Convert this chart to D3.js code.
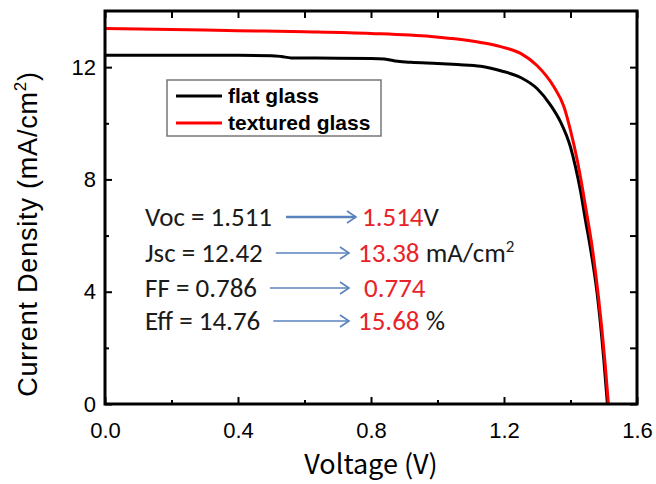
<!DOCTYPE html>
<html>
<head>
<meta charset="utf-8">
<script src="https://cdn.jsdelivr.net/npm/d3@7"></script>
<style>
  html, body { margin: 0; padding: 0; background: #fff; }
  svg { display: block; }
</style>
</head>
<body>
<svg id="chart" width="656" height="484"></svg>
<script>
// J-V curves of the cell on flat and on textured glass
const flatVoltage = [0, 0.2, 0.4, 0.5, 0.53, 0.56, 0.7, 0.8, 0.84, 0.88, 0.92, 1.0, 1.06, 1.13, 1.19, 1.25, 1.30, 1.34, 1.37, 1.40, 1.415, 1.43, 1.445, 1.46, 1.48, 1.50, 1.511];
const flatCurrent = [12.42, 12.42, 12.42, 12.41, 12.38, 12.33, 12.32, 12.31, 12.29, 12.21, 12.17, 12.13, 12.09, 12.03, 11.87, 11.63, 11.23, 10.65, 10.05, 9.15, 8.45, 7.6, 6.55, 5.55, 3.95, 1.6, 0];

const texturedVoltage = [0, 0.2, 0.4, 0.6, 0.8, 0.98, 1.13, 1.19, 1.25, 1.30, 1.35, 1.38, 1.40, 1.42, 1.435, 1.45, 1.465, 1.484, 1.504, 1.514];
const texturedCurrent = [13.38, 13.34, 13.30, 13.26, 13.20, 13.09, 12.88, 12.73, 12.49, 12.05, 11.30, 10.60, 9.75, 8.70, 7.75, 6.70, 5.60, 3.82, 1.45, 0];

const seriesNames = ["flat glass", "textured glass"];
const seriesColors = ["#000000", "#ff0000"];

const xTicks = [0.0, 0.4, 0.8, 1.2, 1.6];
const xMinorTicks = [0.2, 0.6, 1.0, 1.4];
const yTicks = [0, 4, 8, 12];
const yMinorTicks = [2, 6, 10];

// device parameters: flat glass -> textured glass
const paramNames = ["Voc", "Jsc", "FF", "Eff"];
const flatParams = ["1.511", "12.42", "0.786", "14.76"];
const texturedParams = ["1.514", "13.38", "0.774", "15.68"];
const paramUnits = ["V", " mA/cm", "", " %"];

const svg = d3.select("#chart");
const margin = { left: 105, right: 19, top: 11, bottom: 80 };
const W = 656, H = 484;

const x = d3.scaleLinear().domain([0, 1.6]).range([margin.left, W - margin.right]);
const y = d3.scaleLinear().domain([0, 14]).range([H - margin.bottom, margin.top]);

const tickFont = "'Liberation Sans', Arial, sans-serif";
const titleFont = "'Noto Sans CJK JP', 'Liberation Sans', sans-serif";

// curves
const line = d3.line().x(d => x(d[0])).y(d => y(d[1])).curve(d3.curveMonotoneX);
const series = [
  d3.zip(flatVoltage, flatCurrent),
  d3.zip(texturedVoltage, texturedCurrent)
];
svg.append("clipPath").attr("id", "plotclip").append("rect")
  .attr("x", x(0)).attr("y", y(14)).attr("width", x(1.6) - x(0)).attr("height", y(0) - y(14) + 1);
const curves = svg.append("g").attr("clip-path", "url(#plotclip)");
series.forEach((s, i) => {
  curves.append("path").datum(s)
    .attr("d", line)
    .attr("fill", "none")
    .attr("stroke", seriesColors[i])
    .attr("stroke-width", 3)
    .attr("stroke-linejoin", "round");
});

// axes: inward ticks on all four sides
function styleAxis(g) {
  g.select(".domain").remove();
  g.selectAll(".tick line").attr("stroke", "#000").attr("stroke-width", 2);
  g.selectAll("text").attr("font-family", tickFont).attr("font-size", 22).attr("fill", "#000");
}
const bottom = svg.append("g").attr("transform", `translate(0,${y(0)})`)
  .call(d3.axisBottom(x).tickValues(xTicks).tickFormat(d3.format(".1f")).tickSizeInner(-7).tickPadding(18));
styleAxis(bottom);
svg.append("g").attr("transform", `translate(0,${y(0)})`)
  .call(d3.axisBottom(x).tickValues(xMinorTicks).tickFormat("").tickSizeInner(-4)).call(styleAxis);

const left = svg.append("g").attr("transform", `translate(${x(0)},0)`)
  .call(d3.axisLeft(y).tickValues(yTicks).tickFormat(d3.format("d")).tickSizeInner(-7).tickPadding(9));
styleAxis(left);
svg.append("g").attr("transform", `translate(${x(0)},0)`)
  .call(d3.axisLeft(y).tickValues(yMinorTicks).tickFormat("").tickSizeInner(-4)).call(styleAxis);

svg.append("g").attr("transform", `translate(0,${y(14)})`)
  .call(d3.axisTop(x).tickValues(xTicks.concat(xMinorTicks)).tickFormat("").tickSizeInner(-7)).call(styleAxis);
svg.append("g").attr("transform", `translate(${x(1.6)},0)`)
  .call(d3.axisRight(y).tickValues(yTicks.concat(yMinorTicks)).tickFormat("").tickSizeInner(-7)).call(styleAxis);

// frame
svg.append("rect")
  .attr("x", x(0)).attr("y", y(14))
  .attr("width", x(1.6) - x(0)).attr("height", y(0) - y(14))
  .attr("fill", "none").attr("stroke", "#000").attr("stroke-width", 3);

// axis titles
svg.append("text")
  .attr("x", x(0.8)).attr("y", 474)
  .attr("text-anchor", "middle")
  .attr("font-family", titleFont).attr("font-size", 27)
  .text("Voltage (V)");

const yTitle = svg.append("text")
  .attr("transform", `translate(37,234) rotate(-90)`)
  .attr("text-anchor", "middle")
  .attr("letter-spacing", 0.8)
  .attr("font-family", "'Liberation Sans', Arial, sans-serif").attr("font-size", 27);
yTitle.append("tspan").text("Current Density (mA/cm");
yTitle.append("tspan").attr("dy", -11).attr("font-size", 17).text("2");
yTitle.append("tspan").attr("dy", 11).text(")");

// legend
const legend = svg.append("g");
legend.append("rect")
  .attr("x", 167).attr("y", 80).attr("width", 214).attr("height", 56)
  .attr("fill", "#fff").attr("stroke", "#777").attr("stroke-width", 1.5);
seriesNames.forEach((name, i) => {
  const cy = 96 + i * 27;
  legend.append("line")
    .attr("x1", 176).attr("x2", 222).attr("y1", cy).attr("y2", cy)
    .attr("stroke", seriesColors[i]).attr("stroke-width", 3);
  legend.append("text")
    .attr("x", 228).attr("y", cy + 7)
    .attr("font-family", "'Liberation Sans', Arial, sans-serif")
    .attr("font-weight", "bold").attr("font-size", 21)
    .text(name);
});

// parameter comparison
const annFont = "Carlito, Calibri, Lato, 'Open Sans', sans-serif";
const arrowColor = "#5a83bd";
const rowBase = [226, 262, 297, 330];
paramNames.forEach((p, i) => {
  const by = rowBase[i];
  const t = svg.append("text")
    .attr("x", 145).attr("y", by)
    .attr("font-family", annFont).attr("font-size", 27).attr("fill", "#1a1a1a")
    .text(`${p} = ${flatParams[i]}`);
  const end = 145 + t.node().getComputedTextLength();
  const ay = by - 9;
  const ax0 = end + (i === 0 ? 14 : 13);
  const ax1 = i === 0 ? 356 : 349;
  svg.append("line")
    .attr("x1", ax0).attr("x2", ax1).attr("y1", ay).attr("y2", ay)
    .attr("stroke", arrowColor).attr("stroke-width", i === 0 ? 2.5 : 1.6);
  svg.append("path")
    .attr("d", `M${ax1 - 9},${ay - 6} L${ax1},${ay} L${ax1 - 9},${ay + 6}`)
    .attr("fill", "none").attr("stroke", arrowColor).attr("stroke-width", 1.6);

  const v = svg.append("text")
    .attr("x", i === 0 ? 362 : (i === 2 ? 364 : 358)).attr("y", by)
    .attr("font-family", annFont).attr("font-size", 27);
  v.append("tspan").attr("fill", "#e8232a").text(texturedParams[i]);
  if (paramUnits[i]) v.append("tspan").attr("fill", "#1a1a1a").text(paramUnits[i]);
  if (p === "Jsc") v.append("tspan").attr("fill", "#1a1a1a").attr("font-size", 17).attr("dy", -10).text("2");
});
</script>
</body>
</html>
